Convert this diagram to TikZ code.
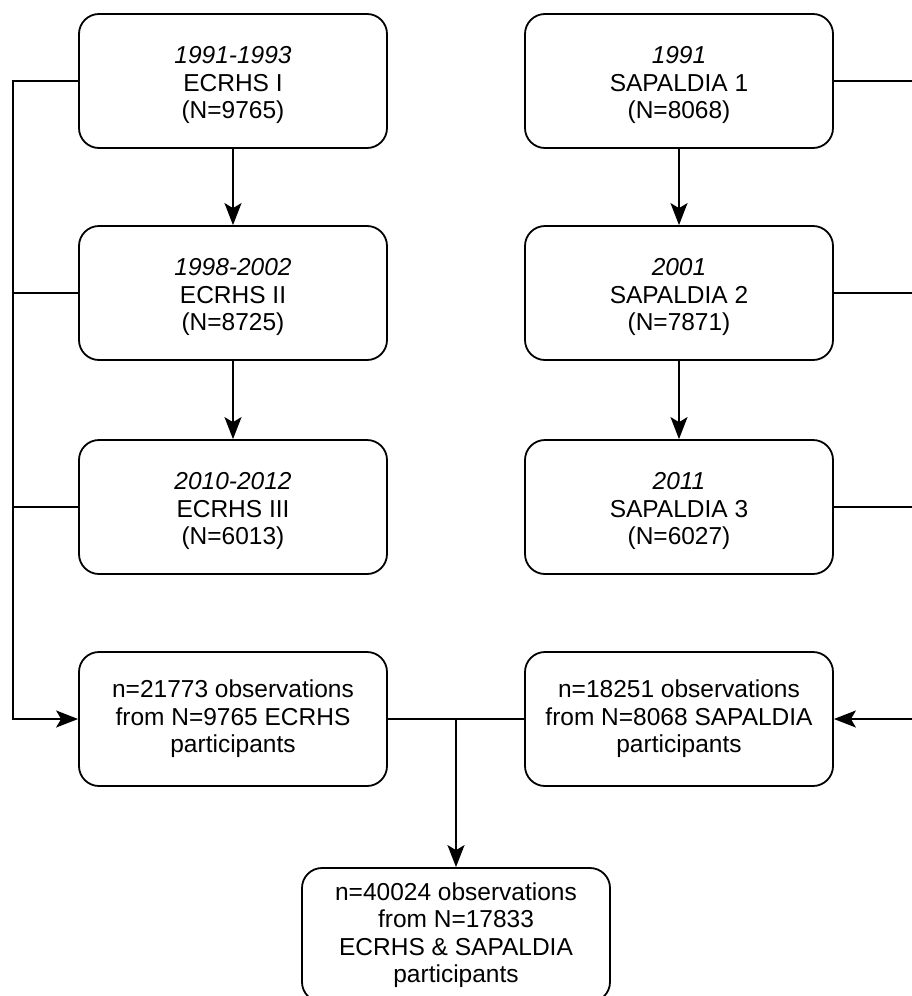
\documentclass[tikz,border=0pt]{standalone}
\usepackage{fontspec}
\setmainfont{Liberation Sans}
\usetikzlibrary{arrows.meta}

% year line on top of a survey box
\newcommand{\yr}[1]{\rule{0pt}{26pt}\textit{#1}}

\begin{document}
\begin{tikzpicture}[x=1pt, y=-1pt,
  box/.style={draw, line width=1.8pt, rounded corners=20pt, minimum width=308pt, minimum height=134pt, align=center, font=\fontsize{24.5}{27.5}\selectfont},
  link/.style={line width=1.8pt},
  arrow/.style={line width=1.8pt, -{Stealth[length=22pt, width=17pt, inset=5pt]}}]

\useasboundingbox (0,0) rectangle (912,996);
\clip (0,0) rectangle (912,996);

% ECRHS column
\node[box] (e1) at (233,81) {\yr{1991-1993}\\ECRHS I\\(N=9765)};
\node[box] (e2) at (233,293) {\yr{1998-2002}\\ECRHS II\\(N=8725)};
\node[box] (e3) at (233,507) {\yr{2010-2012}\\ECRHS III\\(N=6013)};

% SAPALDIA column
\node[box] (s1) at (679,81) {\yr{1991}\\SAPALDIA 1\\(N=8068)};
\node[box] (s2) at (679,293) {\yr{2001}\\SAPALDIA 2\\(N=7871)};
\node[box] (s3) at (679,507) {\yr{2011}\\SAPALDIA 3\\(N=6027)};

% Pooled data
\node[box] (eobs) at (233,719) {n=21773 observations\\from N=9765 ECRHS\\participants};
\node[box] (sobs) at (679,719) {n=18251 observations\\from N=8068 SAPALDIA\\participants};
\node[box] (all) at (456,935) {n=40024 observations\\from N=17833\\ECRHS \& SAPALDIA\\participants};

% Corners of the side lines
\coordinate (lbus) at (13,719);
\coordinate (rbus) at (914,719);
\coordinate (junc) at (456,719);

% Follow-ups
\draw[arrow] (e1) -- (e2);
\draw[arrow] (e2) -- (e3);
\draw[arrow] (s1) -- (s2);
\draw[arrow] (s2) -- (s3);

% Left side
\draw[arrow] (e1.west) -| (lbus) -- (eobs.west);
\draw[link] (e2.west) -- (e2.west -| lbus);
\draw[link] (e3.west) -- (e3.west -| lbus);

% Right side
\draw[arrow] (s1.east) -| (rbus) -- (sobs.east);
\draw[link] (s2.east) -- (s2.east -| rbus);
\draw[link] (s3.east) -- (s3.east -| rbus);

% Merge
\draw[link] (eobs.east) -- (sobs.west);
\draw[arrow] (junc) -- (all.north);

\end{tikzpicture}
\end{document}
